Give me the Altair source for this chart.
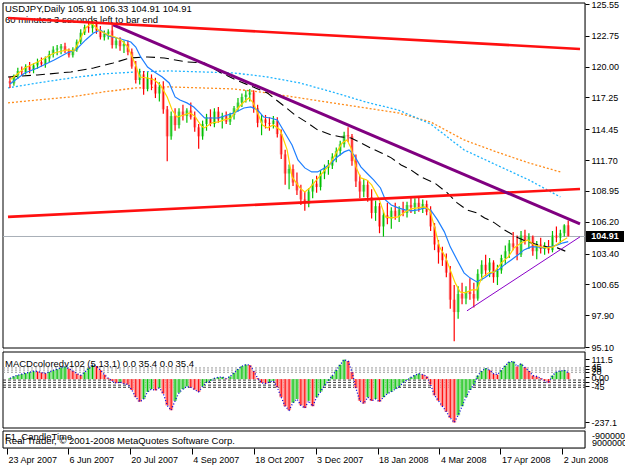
import altair as alt
import pandas as pd

W, H = 582, 445
FONT = "Liberation Sans"

# ---------------- price bars (each bar = 2 trading days) ----------------
opens = [118.7, 118.5, 119.2, 119.6, 119.5, 120.0, 119.7, 120.1, 120.4, 120.2,
         120.7, 121.1, 121.5, 121.6, 121.8, 121.4, 121.0, 121.5, 122.2, 123.0,
         123.5, 123.4, 123.8, 123.2, 122.6, 122.9, 123.2, 121.9, 122.3, 121.8,
         122.0, 121.3, 120.0, 118.8, 119.3, 118.0, 119.0, 118.4, 117.6, 118.2,
         116.2, 113.8, 115.6, 114.8, 116.0, 115.6, 116.1, 115.5, 114.6, 113.8,
         114.9, 115.5, 114.9, 116.0, 115.3, 115.6, 115.1, 115.7, 116.3, 116.8,
         117.3, 117.5, 117.7, 116.3, 115.0, 115.3, 115.0, 114.9, 115.2, 114.0,
         112.2, 110.5, 110.9, 109.7, 109.0, 108.2, 107.8, 108.9, 109.6, 109.3,
         110.5, 111.0, 111.2, 112.0, 112.5, 113.1, 113.9, 113.8, 111.6, 109.8,
         108.9, 109.5, 108.4, 107.0, 107.6, 105.8, 106.8, 106.5, 107.2, 106.7,
         107.3, 107.0, 107.7, 107.5, 107.9, 107.4, 107.8, 107.1, 105.8, 104.2,
         103.5, 102.8, 101.7, 99.3, 98.2, 99.8, 99.4, 100.0, 99.8, 99.4,
         101.6, 102.4, 101.9, 102.6, 101.3, 101.9, 103.0, 103.6, 104.3, 104.0,
         103.3, 105.0, 104.5, 104.9, 103.6, 104.2, 103.8, 104.0, 103.7, 105.0,
         104.8, 105.2, 105.91]
highs = [119.1, 119.3, 119.9, 120.0, 120.2, 120.4, 120.3, 120.7, 120.8, 120.9,
         121.4, 121.8, 121.9, 122.0, 122.1, 121.6, 121.7, 122.4, 123.3, 123.7,
         124.0, 124.1, 124.1, 123.6, 123.2, 123.3, 123.7, 122.6, 122.6, 122.3,
         122.3, 121.6, 120.5, 119.8, 119.6, 119.5, 119.3, 119.0, 118.6, 118.7,
         116.5, 116.0, 116.3, 116.3, 116.6, 116.3, 116.8, 116.0, 114.9, 115.2,
         115.8, 116.2, 116.3, 116.4, 115.9, 116.0, 115.9, 116.5, 117.2, 117.6,
         117.9, 118.0, 117.9, 116.6, 115.7, 115.7, 115.5, 115.6, 115.5, 114.4,
         112.6, 111.3, 111.3, 110.6, 109.5, 108.9, 109.2, 110.0, 110.3, 110.8,
         111.3, 111.7, 112.3, 112.8, 113.4, 114.2, 114.6, 114.0, 112.2, 110.4,
         110.0, 109.9, 109.1, 108.1, 107.9, 107.2, 107.9, 107.5, 107.9, 107.6,
         108.0, 108.0, 108.4, 108.3, 108.4, 108.2, 108.1, 107.6, 106.1, 104.6,
         104.0, 103.4, 102.3, 100.6, 100.5, 100.8, 100.5, 101.2, 100.8, 102.0,
         102.8, 103.3, 103.0, 102.8, 102.4, 103.3, 104.1, 104.6, 105.3, 105.0,
         105.4, 105.5, 105.2, 105.0, 104.5, 104.8, 104.4, 104.6, 105.4, 105.8,
         105.5, 106.0, 106.33]
lows = [118.1, 118.3, 118.9, 119.2, 119.3, 119.4, 119.4, 119.8, 120.0, 119.9,
        120.4, 120.8, 121.0, 121.1, 121.2, 120.8, 120.8, 121.3, 122.0, 122.8,
        123.0, 123.0, 122.9, 122.4, 122.3, 122.4, 121.6, 121.6, 121.4, 121.2,
        121.0, 119.8, 118.5, 118.4, 117.5, 117.8, 117.9, 117.2, 116.9, 115.8,
        111.6, 113.5, 114.3, 114.5, 115.2, 115.0, 115.3, 114.2, 112.7, 113.5,
        114.3, 114.7, 114.6, 115.0, 114.5, 114.9, 114.8, 115.3, 116.0, 116.4,
        116.8, 116.9, 115.9, 114.6, 113.9, 114.5, 114.3, 114.5, 113.7, 111.8,
        109.5, 109.1, 109.4, 108.6, 107.7, 107.2, 107.5, 108.3, 108.8, 109.0,
        110.0, 110.4, 110.9, 111.5, 112.1, 112.8, 113.3, 111.2, 109.3, 108.3,
        108.4, 108.0, 106.5, 106.3, 105.2, 104.9, 106.0, 105.6, 106.4, 106.2,
        106.7, 106.6, 107.0, 106.9, 107.1, 107.0, 106.8, 105.4, 103.7, 102.5,
        102.3, 101.3, 98.5, 95.6, 97.6, 98.9, 98.9, 99.3, 98.6, 99.2,
        101.0, 101.4, 101.3, 100.8, 100.6, 101.6, 102.4, 103.0, 103.7, 102.8,
        103.1, 104.2, 103.8, 103.2, 102.9, 103.4, 103.3, 103.4, 103.5, 104.4,
        104.3, 104.9, 104.91]
closes = [118.5, 119.2, 119.6, 119.5, 120.0, 119.7, 120.1, 120.4, 120.2, 120.7,
          121.1, 121.5, 121.6, 121.8, 121.4, 121.0, 121.5, 122.2, 123.0, 123.5,
          123.4, 123.8, 123.2, 122.6, 122.9, 123.1, 121.9, 122.3, 121.8, 122.0,
          121.3, 120.0, 118.8, 119.3, 118.0, 119.0, 118.4, 117.6, 118.2, 116.2,
          113.8, 115.6, 114.8, 116.0, 115.6, 116.1, 115.5, 114.6, 113.8, 114.9,
          115.5, 114.9, 116.0, 115.3, 115.6, 115.1, 115.7, 116.3, 116.8, 117.3,
          117.5, 117.7, 116.3, 115.0, 115.3, 115.0, 114.9, 115.2, 114.0, 112.2,
          110.5, 110.9, 109.7, 109.0, 108.2, 107.8, 108.9, 109.6, 109.3, 110.5,
          111.0, 111.2, 112.0, 112.5, 113.1, 113.9, 113.8, 111.6, 109.8, 108.9,
          109.5, 108.4, 107.0, 107.6, 105.8, 106.8, 106.5, 107.2, 106.7, 107.3,
          107.0, 107.7, 107.5, 107.9, 107.4, 107.8, 107.1, 105.8, 104.2, 103.5,
          102.8, 101.7, 99.3, 98.2, 99.8, 99.4, 100.0, 99.8, 99.4, 101.6,
          102.4, 101.9, 102.6, 101.3, 101.9, 103.0, 103.6, 104.3, 104.0, 103.3,
          105.0, 104.5, 104.9, 103.6, 104.2, 103.8, 104.0, 103.7, 105.0, 104.8,
          105.2, 105.9, 104.91]

# ---------------- moving averages (read at sparse bar positions) ----------------
yellow_j = [0, 3.75, 7, 11.25, 14.5, 16.25, 17.5, 19.25, 20.75, 22.5, 25, 26.75, 28.25, 30,
            31.75, 33, 35, 36.75, 38.25, 40, 41.25, 42.5, 44.25, 45.75, 47, 48.75, 49.5,
            51.25, 53, 54.5, 56.25, 58, 59.5, 60.75, 61.75, 63, 64.25, 65.5, 67, 68.75,
            70.5, 71.75, 73.75, 75, 76.25, 78, 79.5, 81.25, 83, 84.5, 85.75, 86.75, 88,
            89.25, 90.75, 92, 93.75, 95.5, 97, 98.75, 100.5, 102, 103.75, 105.5, 106.75,
            108, 109.25, 110.75, 112, 113.25, 114.5, 115.75, 117.5, 118.75, 120, 121.75,
            123.25, 125, 126.75, 128.25, 130, 131.75, 133.25, 135, 136.75, 138.25, 140, 141.75]
yellow_p = [118.81, 119.87, 120.40, 121.20, 121.47, 121.38, 122.18, 123.42, 123.86, 123.24,
            122.80, 122.62, 122.36, 121.73, 120.31, 119.07, 118.98, 118.81, 118.36, 117.30,
            116.14, 115.52, 115.70, 115.88, 115.60, 114.70, 114.55, 114.99, 115.08, 115.26,
            115.43, 116.32, 116.85, 117.21, 116.85, 115.88, 114.81, 114.55, 114.81, 114.37,
            112.60, 110.20, 109.22, 108.87, 109.22, 109.93, 110.55, 111.26, 112.33, 113.22,
            113.48, 112.77, 111.09, 110.11, 109.93, 109.49, 108.34, 106.65, 106.56, 106.65,
            107.09, 107.36, 107.45, 107.54, 107.27, 105.76, 103.99, 103.10, 101.95, 100.79,
            99.99, 99.91, 100.17, 100.17, 101.24, 101.68, 101.77, 102.57, 103.10, 103.90,
            104.34, 104.61, 104.17, 103.99, 103.90, 103.99, 104.43, 104.79]

blue_j = [0, 3.75, 7, 11.25, 14.5, 16.75, 19.25, 21.25, 23, 25, 28.25, 30.75, 32, 33.25,
          35, 36.75, 38.75, 40.5, 42, 43.25, 45, 46.75, 48, 49.5, 53, 57, 59.5, 61.25, 63,
          64.5, 66.25, 68, 69.5, 71.75, 73.25, 75, 76.75, 78.25, 80, 81.75, 83.25, 85,
          86.25, 87.5, 89.25, 90.75, 92.5, 94.25, 95.5, 97, 98.75, 100.5, 102, 103.75,
          105.5, 107, 108.75, 110.5, 112, 113.75, 115.5, 117, 118.75, 120.75, 122.5,
          124.25, 125.75, 127.5, 129.25, 130.75, 132.5, 134.25, 135.75, 137.5, 139.25,
          140.75, 142]
blue_p = [118.45, 119.43, 119.87, 120.58, 121.20, 121.47, 122.36, 122.98, 123.24, 122.71,
          122.44, 122.18, 121.73, 120.85, 119.96, 119.52, 119.07, 118.54, 117.30, 117.03,
          116.77, 116.41, 115.97, 115.43, 115.43, 115.88, 116.32, 116.41, 116.14, 115.52,
          115.43, 115.26, 114.37, 113.04, 111.71, 111.00, 110.64, 110.64, 111.00, 111.44,
          111.97, 112.42, 112.60, 112.15, 111.09, 110.55, 109.93, 109.22, 108.16, 107.71,
          107.45, 107.27, 107.18, 107.27, 107.45, 107.27, 106.38, 105.32, 103.99, 102.83,
          101.68, 101.24, 100.88, 101.24, 101.68, 101.95, 102.39, 102.83, 103.28, 103.72,
          103.99, 103.99, 103.90, 103.99, 104.17, 104.35, 104.45]

black_j = [-0.5, 7, 15.5, 21.25, 26.25, 30.5, 35, 39.25, 45, 49.5, 53.75, 57.5, 61.25, 65.5,
           70, 72.5, 75.75, 78.25, 81.75, 84.25, 86.75, 89.25, 91.75, 94.5, 97, 99.5, 102,
           104.5, 108, 111.25, 113.75, 116.25, 118.75, 120.75, 123.25, 125.75, 129.25,
           131.75, 134.25, 136.75, 139.25, 141.75]
black_p = [119.07, 119.25, 119.52, 119.87, 120.31, 120.76, 120.85, 120.76, 120.40, 120.31,
           119.43, 118.81, 118.27, 117.65, 116.41, 115.70, 114.99, 114.37, 113.93, 113.75,
           113.66, 113.22, 112.77, 112.33, 111.89, 111.26, 110.82, 110.20, 109.67, 108.78,
           107.89, 107.27, 107.00, 106.56, 106.12, 105.50, 104.79, 104.43, 104.17, 103.99,
           103.90, 103.54]

slow_j = [-0.5, 7, 15.5, 23.75, 32, 40.5, 48.75, 57, 65.5, 73.75, 82, 90.5, 98.75, 107,
          115.5, 123.75, 132, 140]
cyan_p = [118.10, 118.54, 118.98, 119.34, 119.52, 119.61, 119.52, 119.43, 119.07, 118.54,
          117.74, 116.85, 116.14, 114.90, 112.60, 111.26, 109.93, 108.42]
orange_p = [116.77, 117.03, 117.30, 117.74, 118.10, 118.19, 118.10, 118.01, 117.65, 117.21,
            116.77, 116.32, 115.88, 115.08, 113.48, 112.42, 111.44, 110.64]

# ---------------- trend lines (two anchor points each) ----------------
red_top_j, red_top_p = [-0.5, 145], [124.31, 121.56]
red_low_j, red_low_p = [-0.5, 145], [106.65, 109.13]
purple_j, purple_p = [26.25, 145], [123.69, 106.03]
violet_j, violet_p = [116.25, 145], [98.31, 104.88]
last_price = 104.91

# ---------------- MACD histogram ----------------
macd = [5, 15, 22, 28, 33, 38, 44, 42, 36, 32,
        40, 48, 55, 64, 68, 58, 45, 30, 22, 38,
        60, 78, 72, 50, 25, 5, -10, -22, -15, -25,
        -30, -60, -100, -125, -110, -70, -55, -62, -48, -80,
        -145, -172, -120, -75, -55, -40, -45, -58, -70, -40,
        -18, -10, 5, 10, 12, 3, 15, 35, 55, 72,
        80, 78, 45, 5, -20, -25, -15, -10, -45, -100,
        -150, -172, -130, -110, -145, -160, -120, -150, -100, -70,
        -35, -10, 20, 50, 80, 108, 100, 40, -50, -120,
        -135, -100, -120, -110, -125, -100, -80, -70, -55, -40,
        -20, -5, 10, 22, 30, 25, 15, -30, -90, -120,
        -150, -180, -215, -240, -200, -150, -100, -60, -30, 20,
        45, 60, 50, 30, 25, 50, 75, 95, 98, 70,
        85, 65, 45, 20, 15, 5, -10, -20, 20, 40,
        45, 50, 35]
macd_levels_up = [62, 50, 38]
macd_levels_dn = [-5, -18, -33, -45]

price_ticks = [125.55, 122.75, 120.00, 117.25, 114.45, 111.70, 108.95, 106.20, 103.40,
               100.65, 97.90, 95.10]
macd_ticks = [111.5, 72, 57, 40, 10, -15, -38, -237.1]
macd_tick_labels = ["111.5", "45", "35", "20", "0.00", "-30", "-45", "-237.1"]
date_ticks = [-0.75, 14.75, 30.5, 46.25, 62.0, 77.75, 93.5, 109.25, 124.75, 140.5]
date_labels = ["23 Apr 2007", "6 Jun 2007", "20 Jul 2007", "4 Sep 2007", "18 Oct 2007",
               "3 Dec 2007", "18 Jan 2008", "4 Mar 2008", "17 Apr 2008", "2 Jun 2008"]

# ---------------- tables ----------------
J = list(range(len(closes)))
bars = pd.DataFrame({"j": J, "o": opens, "h": highs, "l": lows, "c": closes})
bars["dir"] = ["up" if c >= o else "down" for o, c in zip(opens, closes)]
mdf = pd.DataFrame({"j": J, "m": macd, "z": 0})
mdf["dir"] = ["up" if i == 0 or macd[i] >= macd[i - 1] else "down" for i in range(len(macd))]

xs = alt.Scale(domain=[-0.5, 145], nice=False, zero=False)
main_s = alt.Scale(domain=[95.10, 125.55], range=[344, 1], nice=False, zero=False)
macd_s = alt.Scale(domain=[-237.1, 111.5], range=[419, 356], nice=False, zero=False)


def lookup_expr(vals, labs):
    return "[" + ",".join("'%s'" % s for s in labs) + "][indexof([" + \
        ",".join(str(v) for v in vals) + "], datum.value)]"


x_axis = alt.Axis(values=date_ticks, labelExpr=lookup_expr(date_ticks, date_labels),
                  orient="bottom", domain=False, grid=False, tickSize=6, tickColor="black",
                  labelAlign="left", labelOffset=1, labelPadding=1, labelFont=FONT,
                  labelFontSize=9, labelColor="black", labelOverlap=False, labelFlush=False,
                  labelBound=False, title=None)
X = alt.X("j:Q", scale=xs, axis=x_axis)


def Y(field, scale=main_s, axis=None):
    return alt.Y(field, scale=scale, axis=axis)


def line(js, ps, color, width, dash=None):
    df = pd.DataFrame({"j": js, "p": ps})
    kw = dict(color=color, strokeWidth=width)
    if dash:
        kw["strokeDash"] = dash
    return alt.Chart(df).mark_line(**kw).encode(x=X, y=Y("p:Q"))


one = pd.DataFrame({"a": [0]})


def frame(y0, y1):
    return alt.Chart(one).mark_rect(fill="white", stroke="black", strokeWidth=1).encode(
        x=alt.value(0), x2=alt.value(W), y=alt.value(y0), y2=alt.value(y1))


def text(t, x, y, size=9.5, color="black", align="left", baseline="alphabetic"):
    return alt.Chart(one).mark_text(text=t, align=align, baseline=baseline, font=FONT,
                                    fontSize=size, color=color).encode(
        x=alt.value(x), y=alt.value(y))


layers = [frame(0, 345), frame(349, 425), frame(428, 445)]

# bid line
layers.append(alt.Chart(pd.DataFrame({"p": [last_price]})).mark_rule(
    color="#A8B0B8", strokeWidth=1).encode(x=alt.value(0), x2=alt.value(W), y=Y("p:Q")))

layers.append(line(slow_j, orange_p, "#FF8C1A", 1.3, [2, 2]))
layers.append(line(slow_j, cyan_p, "#1EB4FF", 1.3, [2, 2]))

dir_scale_light = alt.Scale(domain=["up", "down"], range=["#8FE08F", "#FF9A9A"])
dir_scale = alt.Scale(domain=["up", "down"], range=["#00C000", "#FF0000"])

layers.append(alt.Chart(bars).mark_bar(width=3).encode(
    x=X, y=Y("o:Q"), y2="c:Q",
    color=alt.Color("dir:N", scale=dir_scale_light, legend=None)))
layers.append(alt.Chart(bars).mark_rule(strokeWidth=1.2).encode(
    x=X,
    y=Y("l:Q", axis=alt.Axis(orient="right", values=price_ticks, format=".2f", domain=False,
                             grid=False, tickSize=4, tickColor="black", labelPadding=2,
                             labelFont=FONT, labelFontSize=9, labelColor="black",
                             labelOverlap=False, labelFlush=False, labelBound=False,
                             title=None)),
    y2="h:Q",
    color=alt.Color("dir:N", scale=dir_scale, legend=None)))

layers.append(line(black_j, black_p, "black", 1.1, [9, 5]))
layers.append(line(blue_j, blue_p, "#1E7FFF", 1.2))
layers.append(line(yellow_j, yellow_p, "#FFD200", 1.2))

layers.append(line(red_low_j, red_low_p, "#FF1010", 2.6))
layers.append(line(purple_j, purple_p, "#800080", 3))
layers.append(line(violet_j, violet_p, "#8A00C8", 1))

layers.append(text("USDJPY,Daily  105.91 106.33 104.91 104.91", 2, 9))
layers.append(text("60 minutes 3 seconds left to bar end", 2, 20))
layers.append(line(red_top_j, red_top_p, "#FF1010", 2.6))

# MACD panel
lv = pd.DataFrame({"v": macd_levels_up})
layers.append(alt.Chart(lv).mark_rule(color="#999999", strokeDash=[2, 2], strokeWidth=1).encode(
    x=alt.value(0), x2=alt.value(W), y=Y("v:Q", macd_s)))
lv2 = pd.DataFrame({"v": macd_levels_dn})
layers.append(alt.Chart(lv2).mark_rule(color="#333333", strokeDash=[3, 2], strokeWidth=1).encode(
    x=alt.value(0), x2=alt.value(W), y=Y("v:Q", macd_s)))
layers.append(alt.Chart(mdf).mark_bar(width=4).encode(
    x=X, y=Y("m:Q", macd_s), y2="z:Q",
    color=alt.Color("dir:N", scale=dir_scale_light, legend=None)))
layers.append(alt.Chart(mdf).mark_rule(strokeWidth=1).encode(
    x=X,
    y=Y("m:Q", macd_s, alt.Axis(orient="right", values=macd_ticks,
                                labelExpr=lookup_expr(macd_ticks, macd_tick_labels),
                                domain=False, grid=False, tickSize=4, tickColor="black",
                                labelPadding=2, labelFont=FONT, labelFontSize=9,
                                labelColor="black", labelOverlap=False, labelFlush=False,
                                labelBound=False, title=None)),
    y2="z:Q",
    color=alt.Color("dir:N", scale=dir_scale, legend=None)))
layers.append(alt.Chart(mdf).mark_line(color="#0000E0", strokeDash=[1, 2], strokeWidth=1.3).encode(
    x=X, y=Y("m:Q", macd_s)))
layers.append(text("MACDcoloredv102 (5,13,1) 0.0 35.4 0.0 35.4", 2, 364))

# candle-time panel
layers.append(text("F1_CandleTime", 2, 437))
layers.append(text("Real Trader, \u00a9 2001-2008 MetaQuotes Software Corp.", 2, 441))
layers.append(text("-9000000", 589, 433, size=9, baseline="middle"))
layers.append(text("9000000", 589, 440, size=9, baseline="middle"))

# last price tag
tag = pd.DataFrame({"p": [last_price]})
layers.append(alt.Chart(tag).mark_tick(orient="horizontal", thickness=11, size=38,
                                       color="black", opacity=1).encode(
    x=alt.value(602), y=Y("p:Q")))
layers.append(alt.Chart(tag).mark_text(font=FONT, fontSize=9, color="white", align="center",
                                       baseline="middle", fontWeight="bold").encode(
    x=alt.value(602), y=Y("p:Q"), text=alt.Text("p:Q", format=".2f")))

chart = alt.layer(*layers).resolve_scale(y="independent", color="independent").properties(
    width=W, height=H,
    padding={"left": 3, "top": 3, "right": 40, "bottom": 21},
    autosize=alt.AutoSizeParams(type="none"),
).configure_view(stroke=None).configure(background="white")

chart.save("out.html", embed_options={"renderer": "svg", "actions": False})
